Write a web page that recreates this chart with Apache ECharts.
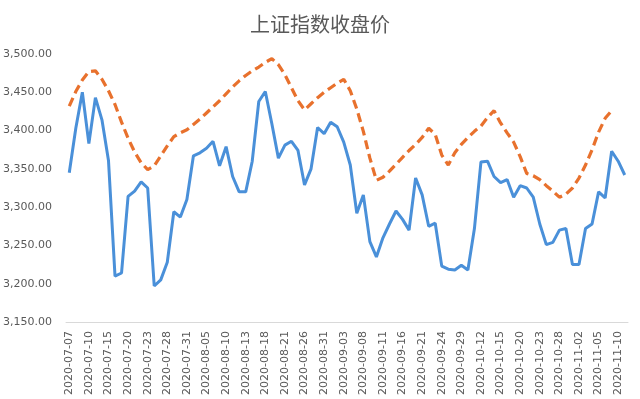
<!DOCTYPE html>
<html>
<head>
<meta charset="utf-8">
<script src="https://cdn.jsdelivr.net/npm/echarts@6/dist/echarts.min.js"></script>
<style>
  html, body { margin: 0; padding: 0; background: #fff; }
  #main { width: 640px; height: 399px; }
</style>
</head>
<body>
<div id="main"></div>
<script>
// 交易日
var dates = [
  '2020-07-07','2020-07-08','2020-07-09','2020-07-10','2020-07-13','2020-07-14','2020-07-15','2020-07-16','2020-07-17',
  '2020-07-20','2020-07-21','2020-07-22','2020-07-23','2020-07-24','2020-07-27','2020-07-28','2020-07-29','2020-07-30','2020-07-31',
  '2020-08-03','2020-08-04','2020-08-05','2020-08-06','2020-08-07','2020-08-10','2020-08-11','2020-08-12','2020-08-13','2020-08-14',
  '2020-08-17','2020-08-18','2020-08-19','2020-08-20','2020-08-21','2020-08-24','2020-08-25','2020-08-26','2020-08-27','2020-08-28',
  '2020-08-31','2020-09-01','2020-09-02','2020-09-03','2020-09-04','2020-09-07','2020-09-08','2020-09-09','2020-09-10','2020-09-11',
  '2020-09-14','2020-09-15','2020-09-16','2020-09-17','2020-09-18','2020-09-21','2020-09-22','2020-09-23','2020-09-24','2020-09-25',
  '2020-09-28','2020-09-29','2020-09-30','2020-10-09','2020-10-12','2020-10-13','2020-10-14','2020-10-15','2020-10-16','2020-10-19',
  '2020-10-20','2020-10-21','2020-10-22','2020-10-23','2020-10-26','2020-10-27','2020-10-28','2020-10-29','2020-10-30','2020-11-02',
  '2020-11-03','2020-11-04','2020-11-05','2020-11-06','2020-11-09','2020-11-10','2020-11-11'
];

// 收盘价(蓝线)
var closeVals = [
  3345, 3403, 3450, 3383, 3443, 3414, 3361, 3210, 3214,
  3314, 3321, 3333, 3325, 3197, 3205, 3228, 3294, 3287, 3310,
  3367, 3371, 3377, 3386, 3354, 3379, 3340, 3320, 3320, 3360,
  3438, 3451, 3409, 3364, 3381, 3386, 3374, 3329, 3350, 3404,
  3396, 3411, 3405, 3385, 3355, 3292, 3316, 3255, 3235, 3260,
  3278, 3295, 3284, 3270, 3338, 3316, 3275, 3279, 3223, 3219,
  3218, 3224, 3218, 3272, 3359, 3360, 3340, 3332, 3336, 3313,
  3328, 3325, 3313, 3278, 3251, 3254, 3270, 3272, 3225, 3225,
  3272, 3278, 3320, 3312, 3373, 3360, 3342
];

// 橙色虚线
var trendVals = [
  3432, 3451, 3466, 3477, 3478, 3467, 3452, 3434, 3411,
  3390, 3372, 3358, 3349, 3354, 3367, 3380, 3392, 3397, 3401,
  3408, 3415, 3423, 3431, 3439, 3448, 3457, 3465, 3472, 3478,
  3483, 3489, 3494, 3486, 3473, 3456, 3439, 3427, 3435, 3443,
  3450, 3456, 3462, 3467, 3452, 3428, 3399, 3364, 3335, 3339,
  3347, 3356, 3365, 3374, 3382, 3391, 3403, 3395, 3368, 3355,
  3371, 3382, 3391, 3399, 3406, 3417, 3426, 3410, 3397, 3385,
  3366, 3344, 3341, 3336, 3328, 3321, 3313, 3317, 3325, 3338,
  3355, 3375, 3398, 3416, 3426
];

var myChart = echarts.init(document.getElementById('main'));
var option = {
  backgroundColor: '#ffffff',
  animation: false,
  title: {
    text: '上证指数收盘价',
    left: 'center',
    top: 9,
    textStyle: {
      fontFamily: 'Noto Sans CJK SC',
      fontSize: 20,
      fontWeight: 'normal',
      color: '#595959'
    }
  },
  grid: {
    left: 66,
    right: 12,
    top: 54,
    bottom: 77
  },
  xAxis: {
    type: 'category',
    data: dates,
    boundaryGap: true,
    axisLine: { lineStyle: { color: '#d9d9d9', width: 1 } },
    axisTick: { show: false },
    axisLabel: {
      interval: 2,
      rotate: 90,
      margin: 9,
      fontSize: 11,
      fontFamily: 'DejaVu Sans',
      color: '#595959'
    },
    splitLine: { show: false }
  },
  yAxis: {
    type: 'value',
    min: 3150,
    max: 3500,
    interval: 50,
    axisLine: { show: false },
    axisTick: { show: false },
    splitLine: { show: false },
    axisLabel: {
      margin: 14,
      fontSize: 11,
      fontFamily: 'DejaVu Sans',
      color: '#595959',
      formatter: function (v) {
        return v.toLocaleString('en-US', { minimumFractionDigits: 2, maximumFractionDigits: 2 });
      }
    }
  },
  series: [
    {
      name: '收盘价',
      type: 'line',
      data: closeVals,
      symbol: 'none',
      lineStyle: { color: '#4a90d9', width: 3 },
      z: 3
    },
    {
      name: '趋势',
      type: 'line',
      data: trendVals,
      symbol: 'none',
      lineStyle: { color: '#e8712d', width: 3.2, type: [9, 5] },
      z: 2
    }
  ]
};
myChart.setOption(option);
</script>
</body>
</html>
